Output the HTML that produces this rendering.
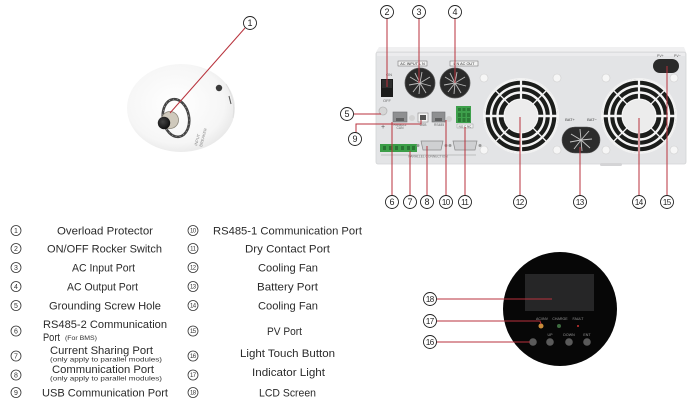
<!DOCTYPE html>
<html><head><meta charset="utf-8"><style>
html,body{margin:0;padding:0;background:#fff;}
svg{display:block;}
text{font-family:"Liberation Sans",Arial,sans-serif;}
</style></head><body>
<svg width="700" height="406" viewBox="0 0 700 406" xmlns="http://www.w3.org/2000/svg">
<defs>
<radialGradient id="disc" cx="45%" cy="45%" r="60%">
<stop offset="0" stop-color="#ffffff"/><stop offset="0.75" stop-color="#f6f6f6"/><stop offset="1" stop-color="#e6e6e6"/>
</radialGradient>
<radialGradient id="knob" cx="40%" cy="40%" r="60%">
<stop offset="0" stop-color="#444"/><stop offset="1" stop-color="#111"/>
</radialGradient>
<g id="fan">
<circle r="38" fill="#f2f2f2"/>
<circle r="37" fill="#1b1d1b"/>
<circle r="36.2" fill="none" stroke="#f4f4f4" stroke-width="1.8"/>
<circle r="30" fill="none" stroke="#f4f4f4" stroke-width="2.4"/>
<circle r="23.5" fill="none" stroke="#f4f4f4" stroke-width="2.4"/>
<line x1="-37" y1="0" x2="37" y2="0" stroke="#f4f4f4" stroke-width="2.6"/>
<line x1="0" y1="-37" x2="0" y2="37" stroke="#f4f4f4" stroke-width="2.2"/>
<line x1="-26" y1="-26" x2="26" y2="26" stroke="#f4f4f4" stroke-width="1.3"/>
<line x1="-26" y1="26" x2="26" y2="-26" stroke="#f4f4f4" stroke-width="1.3"/>
<circle r="17" fill="#ececec" stroke="#f8f8f8" stroke-width="1"/>
</g>
<g id="gland">
<circle r="15" fill="#2a2a2a"/>
<circle r="15" fill="none" stroke="#555" stroke-width="0.8"/>
<g stroke="#bdbdbd" stroke-width="0.9">
<line x1="0" y1="0" x2="-10" y2="-6"/><line x1="0" y1="0" x2="-11" y2="2"/><line x1="0" y1="0" x2="-7" y2="9"/>
<line x1="0" y1="0" x2="-1" y2="11"/><line x1="0" y1="0" x2="6" y2="10"/><line x1="0" y1="0" x2="11" y2="3"/>
<line x1="0" y1="0" x2="10" y2="-6"/><line x1="0" y1="0" x2="2" y2="-11"/><line x1="0" y1="0" x2="-5" y2="-10"/>
</g>
</g>
</defs>

<!-- ============ Overload protector ============ -->
<ellipse cx="181" cy="108" rx="54" ry="44" fill="url(#disc)"/>
<path d="M226,84 Q236,100 233,118" fill="none" stroke="#e0e0e0" stroke-width="1"/>
<circle cx="219" cy="88" r="3.2" fill="#3a3a3a"/>
<line x1="229" y1="96" x2="231" y2="104" stroke="#555" stroke-width="1"/>
<ellipse cx="176" cy="118" rx="13" ry="19" fill="none" stroke="#454545" stroke-width="2.6" transform="rotate(-10 176 118)"/>
<ellipse cx="176" cy="118" rx="13" ry="19" fill="none" stroke="#bbb" stroke-width="0.6" stroke-dasharray="1 3" transform="rotate(-10 176 118)"/>
<circle cx="170" cy="120" r="8.5" fill="#cfc9bc" stroke="#8a8578" stroke-width="0.8"/>
<circle cx="164" cy="123" r="6.2" fill="url(#knob)"/>
<text x="0" y="0" font-size="4" fill="#888" transform="translate(197,146) rotate(-75)">INPUT</text>
<text x="0" y="0" font-size="4" fill="#888" transform="translate(202,147) rotate(-75)">BREAKER</text>
<line x1="245" y1="28" x2="170" y2="113" stroke="#b8323c" stroke-width="1"/>
<circle cx="250" cy="23" r="6.5" fill="#fff" stroke="#222" stroke-width="0.9"/>
<text x="250" y="26.2" font-size="9" text-anchor="middle" fill="#222">1</text>

<!-- ============ Rear panel device ============ -->
<path d="M379,47 L684,47 L686,52 L376,52 Z" fill="#f0f0f1"/>
<rect x="376" y="52" width="310" height="112" rx="2" fill="#e3e4e6" stroke="#d3d4d6" stroke-width="0.8"/>
<rect x="377" y="53" width="308" height="3" fill="#ececee"/>
<rect x="600" y="163" width="22" height="3" rx="1.5" fill="#d4d4d6"/>

<!-- rocker switch -->
<text x="389" y="76" font-size="4" fill="#666" text-anchor="middle">ON</text>
<rect x="381" y="79" width="12" height="18" fill="#1b1b1b"/>
<rect x="382" y="80" width="10" height="8" fill="#2e2e2e"/>
<text x="387" y="102" font-size="4" fill="#666" text-anchor="middle">OFF</text>

<!-- AC labels -->
<rect x="398" y="61" width="29" height="5" fill="#f2f2f2" stroke="#666" stroke-width="0.5"/>
<text x="412.5" y="65" font-size="3.8" fill="#333" text-anchor="middle">AC INPUT L  N</text>
<rect x="450" y="61" width="28" height="5" fill="#f2f2f2" stroke="#666" stroke-width="0.5"/>
<text x="464" y="65" font-size="3.8" fill="#333" text-anchor="middle">L  N AC OUT</text>
<use href="#gland" x="420" y="83"/>
<use href="#gland" x="455" y="83"/>

<!-- ground, ports -->
<circle cx="383" cy="111" r="4" fill="#d6d6d6" stroke="#b5b5b5" stroke-width="0.8"/>
<text x="383" y="129" font-size="7" fill="#555" text-anchor="middle">+</text>
<rect x="393" y="112" width="14" height="10" fill="#8e8f91" stroke="#6f7072" stroke-width="0.6"/>
<rect x="396" y="118" width="8" height="3" fill="#5e5f60"/>
<text x="400" y="126" font-size="3.3" fill="#666" text-anchor="middle">RS485-2</text>
<text x="400" y="129" font-size="3.3" fill="#666" text-anchor="middle">CAN</text>
<circle cx="412" cy="118" r="3" fill="#d2d2d2"/>
<rect x="418" y="113" width="10" height="9" fill="#f5f5f5" stroke="#888" stroke-width="0.6"/>
<rect x="420" y="115" width="6" height="5" fill="#555"/>
<text x="423" y="126" font-size="3.3" fill="#666" text-anchor="middle">USB</text>
<rect x="432" y="112" width="13" height="10" fill="#8e8f91" stroke="#6f7072" stroke-width="0.6"/>
<rect x="435" y="118" width="7" height="3" fill="#5e5f60"/>
<text x="439" y="126" font-size="3.3" fill="#666" text-anchor="middle">RS485</text>
<circle cx="449" cy="119" r="3" fill="#d2d2d2"/>
<rect x="456" y="106" width="15" height="17" fill="#3ea04c"/>
<g fill="#2b7a36">
<rect x="458" y="108" width="3" height="3"/><rect x="462.5" y="108" width="3" height="3"/><rect x="467" y="108" width="3" height="3"/>
<rect x="458" y="113" width="3" height="4"/><rect x="462.5" y="113" width="3" height="4"/><rect x="467" y="113" width="3" height="4"/>
<rect x="458" y="118" width="3" height="4"/><rect x="462.5" y="118" width="3" height="4"/><rect x="467" y="118" width="3" height="4"/>
</g>
<rect x="457" y="124" width="16" height="4" fill="#f2f2f2" stroke="#888" stroke-width="0.4"/>
<text x="465" y="127.3" font-size="3" fill="#444" text-anchor="middle">NO C NC</text>

<!-- bottom row -->
<rect x="380" y="144" width="37" height="8" fill="#3c9e48"/>
<g fill="#2a7434"><rect x="383" y="146" width="3" height="4"/><rect x="389" y="146" width="3" height="4"/><rect x="395" y="146" width="3" height="4"/><rect x="401" y="146" width="3" height="4"/><rect x="407" y="146" width="3" height="4"/><rect x="412" y="146" width="3" height="4"/></g>
<path d="M421,141 L443,141 L441,150 L423,150 Z" fill="#cfd0d2" stroke="#8a8a8a" stroke-width="0.7"/>
<circle cx="418" cy="145.5" r="1.5" fill="#999"/><circle cx="446" cy="145.5" r="1.5" fill="#999"/>
<path d="M453,141 L477,141 L475,150 L455,150 Z" fill="#cfd0d2" stroke="#8a8a8a" stroke-width="0.7"/>
<circle cx="450" cy="145.5" r="1.5" fill="#999"/><circle cx="480" cy="145.5" r="1.5" fill="#999"/>
<line x1="381" y1="155" x2="476" y2="155" stroke="#999" stroke-width="0.5"/>
<text x="428" y="157.5" font-size="3.3" fill="#777" text-anchor="middle">PARALLEL CONNECTION</text>

<!-- fans -->
<g fill="#f6f6f6" stroke="#cfcfcf" stroke-width="0.6">
<circle cx="484" cy="78" r="4"/><circle cx="557" cy="78" r="4"/><circle cx="484" cy="150" r="4"/><circle cx="557" cy="150" r="4"/>
<circle cx="606" cy="78" r="4"/><circle cx="674" cy="78" r="4"/><circle cx="606" cy="150" r="4"/><circle cx="674" cy="150" r="4"/>
</g>
<use href="#fan" x="521" y="116"/>
<use href="#fan" x="639" y="116"/>

<!-- battery port -->
<text x="570" y="121" font-size="4" fill="#444" text-anchor="middle">BAT+</text>
<text x="592" y="121" font-size="4" fill="#444" text-anchor="middle">BAT−</text>
<rect x="562" y="127" width="38" height="26" rx="13" fill="#2c2c2c" stroke="#555" stroke-width="0.6"/>
<g stroke="#c8c8c8" stroke-width="0.9">
<line x1="581" y1="140" x2="571" y2="134"/><line x1="581" y1="140" x2="570" y2="142"/><line x1="581" y1="140" x2="574" y2="149"/>
<line x1="581" y1="140" x2="582" y2="151"/><line x1="581" y1="140" x2="590" y2="148"/><line x1="581" y1="140" x2="592" y2="139"/>
<line x1="581" y1="140" x2="589" y2="131"/><line x1="581" y1="140" x2="580" y2="129"/>
</g>

<!-- PV port -->
<text x="657" y="57" font-size="3.5" fill="#555">PV+</text>
<text x="674" y="57" font-size="3.5" fill="#555">PV−</text>
<rect x="653" y="59" width="26" height="14" rx="7" fill="#2a2a2a"/>

<!-- leader lines device -->
<g stroke="#b8323c" stroke-width="1" fill="none">
<line x1="387" y1="18.5" x2="387" y2="87"/>
<line x1="419" y1="18.5" x2="419" y2="83"/>
<line x1="455" y1="18.5" x2="455" y2="83"/>
<line x1="353.5" y1="114" x2="381" y2="114"/>
<polyline points="356,133 356,124 421,124 421,120"/>
<line x1="392" y1="195.5" x2="392" y2="122"/>
<line x1="410" y1="195.5" x2="410" y2="151"/>
<line x1="427" y1="195.5" x2="427" y2="146"/>
<line x1="446" y1="195.5" x2="446" y2="120"/>
<line x1="465" y1="195.5" x2="465" y2="127"/>
<line x1="520" y1="195.5" x2="520" y2="117"/>
<line x1="580" y1="195.5" x2="580" y2="147"/>
<line x1="639" y1="195.5" x2="639" y2="118"/>
<line x1="667" y1="195.5" x2="667" y2="66"/>
</g>

<!-- callout circles device -->
<g fill="#fff" stroke="#222" stroke-width="0.9">
<circle cx="387" cy="12" r="6.5"/><circle cx="419" cy="12" r="6.5"/><circle cx="455" cy="12" r="6.5"/>
<circle cx="347" cy="114" r="6.5"/><circle cx="355" cy="139" r="6.5"/>
<circle cx="392" cy="202" r="6.5"/><circle cx="410" cy="202" r="6.5"/><circle cx="427" cy="202" r="6.5"/>
<circle cx="446" cy="202" r="6.5"/><circle cx="465" cy="202" r="6.5"/><circle cx="520" cy="202" r="6.5"/>
<circle cx="580" cy="202" r="6.5"/><circle cx="639" cy="202" r="6.5"/><circle cx="667" cy="202" r="6.5"/>
</g>
<g font-size="9" fill="#222" text-anchor="middle">
<text x="387" y="15.2">2</text><text x="419" y="15.2">3</text><text x="455" y="15.2">4</text>
<text x="347" y="117.2">5</text><text x="355" y="142.2">9</text>
<text x="392" y="205.2">6</text><text x="410" y="205.2">7</text><text x="427" y="205.2">8</text>
</g>
<g font-size="8" fill="#222" text-anchor="middle" letter-spacing="-0.6">
<text x="445.7" y="204.9">10</text><text x="464.7" y="204.9">11</text><text x="519.7" y="204.9">12</text>
<text x="579.7" y="204.9">13</text><text x="638.7" y="204.9">14</text><text x="666.7" y="204.9">15</text>
</g>

<!-- ============ Control panel ============ -->
<circle cx="560" cy="309" r="57" fill="#070707"/>
<rect x="525" y="274" width="69" height="37" fill="#262627"/>
<g font-size="3.6" fill="#9a9a9a" text-anchor="middle">
<text x="542" y="320">AC/INV</text><text x="560" y="320">CHARGE</text><text x="578" y="320">FAULT</text>
<text x="550" y="336">UP</text><text x="569" y="336">DOWN</text><text x="587" y="336">ENT</text>
</g>
<circle cx="541" cy="326" r="2.5" fill="#c98b3a"/>
<circle cx="559" cy="326" r="2" fill="#3d6b3f"/>
<circle cx="578" cy="326" r="1" fill="#c33"/>
<g fill="#5a5a5a"><circle cx="533" cy="342" r="3.8"/><circle cx="550" cy="342" r="3.8"/><circle cx="569" cy="342" r="3.8"/><circle cx="587" cy="342" r="3.8"/></g>
<g stroke="#b8323c" stroke-width="1" fill="none">
<line x1="436.5" y1="299" x2="552" y2="299"/>
<polyline points="436.5,321 540,321 541,324"/>
<line x1="436.5" y1="342" x2="530" y2="342"/>
</g>
<g fill="#fff" stroke="#222" stroke-width="0.9">
<circle cx="430" cy="299" r="6.5"/><circle cx="430" cy="321" r="6.5"/><circle cx="430" cy="342" r="6.5"/>
</g>
<g font-size="8" fill="#222" text-anchor="middle" letter-spacing="-0.6">
<text x="429.7" y="301.9">18</text><text x="429.7" y="323.9">17</text><text x="429.7" y="344.9">16</text>
</g>

<!-- ============ Legend ============ -->
<g fill="#fff" stroke="#333" stroke-width="0.8">
<circle cx="16" cy="230.5" r="5"/><circle cx="16" cy="248.5" r="5"/><circle cx="16" cy="267.5" r="5"/>
<circle cx="16" cy="286.5" r="5"/><circle cx="16" cy="305.5" r="5"/><circle cx="16" cy="331" r="5"/>
<circle cx="16" cy="356" r="5"/><circle cx="16" cy="375" r="5"/><circle cx="16" cy="392.5" r="5"/>
<circle cx="193" cy="230.5" r="5"/><circle cx="193" cy="248.5" r="5"/><circle cx="193" cy="267.5" r="5"/>
<circle cx="193" cy="286.5" r="5"/><circle cx="193" cy="305.5" r="5"/><circle cx="193" cy="331" r="5"/>
<circle cx="193" cy="356" r="5"/><circle cx="193" cy="375" r="5"/><circle cx="193" cy="392.5" r="5"/>
</g>
<g font-size="7" fill="#333" text-anchor="middle">
<text x="16" y="233">1</text><text x="16" y="251">2</text><text x="16" y="270">3</text>
<text x="16" y="289">4</text><text x="16" y="308">5</text><text x="16" y="333.5">6</text>
<text x="16" y="358.5">7</text><text x="16" y="377.5">8</text><text x="16" y="395">9</text>
</g>
<g font-size="6" fill="#333" text-anchor="middle" letter-spacing="-0.5">
<text x="192.8" y="232.6">10</text><text x="192.8" y="250.6">11</text><text x="192.8" y="269.6">12</text>
<text x="192.8" y="288.6">13</text><text x="192.8" y="307.6">14</text><text x="192.8" y="333.1">15</text>
<text x="192.8" y="358.1">16</text><text x="192.8" y="377.1">17</text><text x="192.8" y="394.6">18</text>
</g>

<g font-size="11" fill="#2a2a2a">
<text x="57" y="234.5" textLength="96" lengthAdjust="spacingAndGlyphs">Overload Protector</text>
<text x="47" y="252.5" textLength="115" lengthAdjust="spacingAndGlyphs">ON/OFF Rocker Switch</text>
<text x="72" y="271.5" textLength="63" lengthAdjust="spacingAndGlyphs">AC Input Port</text>
<text x="67" y="290.5" textLength="71" lengthAdjust="spacingAndGlyphs">AC Output Port</text>
<text x="49" y="309.5" textLength="112" lengthAdjust="spacingAndGlyphs">Grounding Screw Hole</text>
<text x="43" y="328" textLength="124" lengthAdjust="spacingAndGlyphs">RS485-2 Communication</text>
<text x="43" y="341" textLength="17" lengthAdjust="spacingAndGlyphs">Port</text>
<text x="50" y="354" textLength="103" lengthAdjust="spacingAndGlyphs">Current Sharing Port</text>
<text x="52" y="373" textLength="102" lengthAdjust="spacingAndGlyphs">Communication Port</text>
<text x="42" y="396.5" textLength="126" lengthAdjust="spacingAndGlyphs">USB Communication Port</text>

<text x="213" y="234.5" textLength="149" lengthAdjust="spacingAndGlyphs">RS485-1 Communication Port</text>
<text x="245" y="252.5" textLength="85" lengthAdjust="spacingAndGlyphs">Dry Contact Port</text>
<text x="258" y="271.5" textLength="60" lengthAdjust="spacingAndGlyphs">Cooling Fan</text>
<text x="257" y="290.5" textLength="61" lengthAdjust="spacingAndGlyphs">Battery Port</text>
<text x="258" y="309.5" textLength="60" lengthAdjust="spacingAndGlyphs">Cooling Fan</text>
<text x="267" y="335" textLength="35" lengthAdjust="spacingAndGlyphs">PV Port</text>
<text x="240" y="357" textLength="95" lengthAdjust="spacingAndGlyphs">Light Touch Button</text>
<text x="252" y="376" textLength="73" lengthAdjust="spacingAndGlyphs">Indicator Light</text>
<text x="259" y="396.5" textLength="57" lengthAdjust="spacingAndGlyphs">LCD Screen</text>
</g>
<g font-size="6.2" fill="#333">
<text x="65" y="340" textLength="32" lengthAdjust="spacingAndGlyphs">(For BMS)</text>
<text x="50" y="361.5" textLength="112" lengthAdjust="spacingAndGlyphs">(only apply to parallel modules)</text>
<text x="50" y="380.5" textLength="112" lengthAdjust="spacingAndGlyphs">(only apply to parallel modules)</text>
</g>
</svg>
</body></html>
